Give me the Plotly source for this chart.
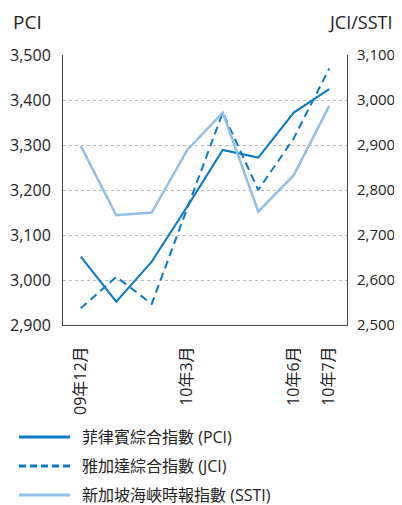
import plotly.graph_objects as go

months = ["09年12月", "10年1月", "10年2月", "10年3月", "10年4月", "10年5月", "10年6月", "10年7月"]
shown_ticks = ["09年12月", "10年3月", "10年6月", "10年7月"]
pci = [3052, 2952, 3041, 3163, 3289, 3272, 3372, 3424]
jci = [2537, 2607, 2547, 2760, 2972, 2800, 2915, 3070]
ssti = [2898, 2744, 2750, 2889, 2972, 2752, 2833, 2987]

names = ["菲律賓綜合指數 (PCI)", "雅加達綜合指數 (JCI)", "新加坡海峽時報指數 (SSTI)"]
dark = "#0a79c6"
light = "#92bfe8"
font = "Open Sans, Noto Sans CJK TC, sans-serif"

styles = [dict(color=dark, width=2),
          dict(color=dark, width=2, dash="8px,5px"),
          dict(color=light, width=2.5)]
legend_dash = [None, "7px,4px", None]
series = [(pci, "y"), (jci, "y2"), (ssti, "y2")]

fig = go.Figure()
for (vals, ax), nm, st in zip(series, names, styles):
    fig.add_trace(go.Scatter(x=months, y=vals, name=nm, mode="lines",
                             line=st, yaxis=ax, showlegend=False))

# page body has an 8px margin, so figure coords = screen coords - 8
W, H = 394, 497
L, R, T, B = 55, 339, 47, 317
def px_x(p): return (p - L) / (R - L)
def px_y(p): return (B - p) / (B - T)

shapes = []
annotations = []
for i, (nm, st) in enumerate(zip(names, styles)):
    yy = px_y(429 + 29 * i)
    shapes.append(dict(type="line", xref="paper", yref="paper",
                       x0=px_x(11), x1=px_x(62), y0=yy, y1=yy,
                       line=dict(color=st["color"], width=3,
                                 dash=legend_dash[i] or "solid")))
    annotations.append(dict(text=nm, xref="paper", yref="paper", x=px_x(72), y=yy,
                            xanchor="left", yanchor="middle", showarrow=False,
                            font=dict(size=16, color="#222")))

annotations.append(dict(text="PCI", xref="paper", yref="paper", x=px_x(3), y=px_y(14),
                        xanchor="left", yanchor="middle", showarrow=False, font=dict(size=19)))
annotations.append(dict(text="JCI/SSTI", xref="paper", yref="paper", x=px_x(386), y=px_y(14),
                        xanchor="right", yanchor="middle", showarrow=False, font=dict(size=18)))

fig.update_layout(
    template="none",
    width=W, height=H,
    margin=dict(l=L, r=W - R, t=T, b=H - B, pad=0),
    paper_bgcolor="white", plot_bgcolor="white",
    font=dict(family=font, size=16, color="#222"),
    showlegend=False,
    xaxis=dict(type="category", range=[-0.5, 7.5], tickvals=shown_ticks,
               tickangle=-90, showline=True, linecolor="#444", linewidth=1,
               showgrid=False, ticks="outside", ticklen=14, tickcolor="rgba(0,0,0,0)",
               tickfont=dict(size=16), automargin=False, mirror=False),
    yaxis=dict(range=[2900, 3500], dtick=100, tickformat=",", showline=True,
               linecolor="#444", linewidth=1, showgrid=True, gridcolor="#bbbbbb",
               griddash="dot", gridwidth=1, ticks="outside", ticklen=8,
               tickcolor="rgba(0,0,0,0)", zeroline=False, automargin=False),
    yaxis2=dict(range=[2500, 3100], dtick=100, tickformat=",", overlaying="y",
                side="right", showline=True, linecolor="#444", linewidth=1,
                showgrid=False, ticks="outside", ticklen=6,
                tickcolor="rgba(0,0,0,0)", zeroline=False, automargin=False,
                tickfont=dict(size=15)),
    shapes=shapes,
    annotations=annotations,
)

fig.write_html("out.html")
